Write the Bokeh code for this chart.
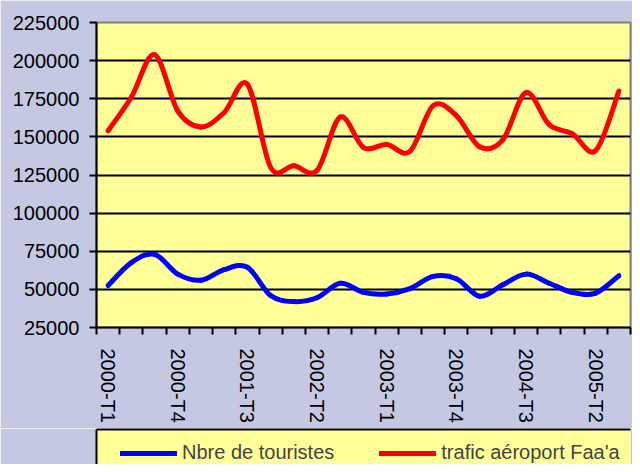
from bokeh.plotting import figure
from bokeh.layouts import column
from bokeh.models import FixedTicker, Range1d, Legend, LegendItem, ColumnDataSource, NumeralTickFormatter
from bokeh.embed import file_html
from bokeh.resources import INLINE

quarters = ["2000-T1", "2000-T2", "2000-T3", "2000-T4",
            "2001-T1", "2001-T2", "2001-T3", "2001-T4",
            "2002-T1", "2002-T2", "2002-T3", "2002-T4",
            "2003-T1", "2003-T2", "2003-T3", "2003-T4",
            "2004-T1", "2004-T2", "2004-T3", "2004-T4",
            "2005-T1", "2005-T2", "2005-T3"]
touristes = [52500, 67500, 73000, 60000, 56000, 63000, 64500, 46000, 42000, 44500,
             54000, 48000, 47000, 50500, 58500, 57000, 45500, 53000, 60000, 54000,
             48000, 47500, 59000]
trafic = [154000, 176000, 204000, 167000, 156500, 166000, 184500, 130000, 131000, 128000,
          163000, 143000, 145000, 140500, 170500, 164000, 143500, 148000, 179000, 158000,
          152000, 141000, 180000]
series_names = ["Nbre de touristes", "trafic aéroport Faa'a"]
series_colors = ["#0000FF", "#FF0000"]
label_every = 3
y_ticks = [25000, 50000, 75000, 100000, 125000, 150000, 175000, 200000, 225000]

BG = "#C4C8E2"
YEL = "#FFFF99"
FONT = "Liberation Sans"

n = len(quarters)
xs = [i + 0.5 for i in range(n)]


def bezier_source(ys):
    d = dict(x0=[], y0=[], x1=[], y1=[], cx0=[], cy0=[], cx1=[], cy1=[])
    for i in range(n - 1):
        im = max(i - 1, 0)
        ip2 = min(i + 2, n - 1)
        d["x0"].append(xs[i]); d["y0"].append(ys[i])
        d["x1"].append(xs[i + 1]); d["y1"].append(ys[i + 1])
        d["cx0"].append(xs[i] + (xs[i + 1] - xs[im]) / 6)
        d["cy0"].append(ys[i] + (ys[i + 1] - ys[im]) / 6)
        d["cx1"].append(xs[i + 1] - (xs[ip2] - xs[i]) / 6)
        d["cy1"].append(ys[i + 1] - (ys[ip2] - ys[i]) / 6)
    return ColumnDataSource(d)


p1 = figure(width=632, height=428, output_backend="svg", toolbar_location=None,
            x_range=Range1d(0, n), y_range=Range1d(25000, 225000),
            min_border_left=96, min_border_top=22, min_border_right=2, min_border_bottom=101)
p1.background_fill_color = YEL
p1.border_fill_color = BG
p1.outline_line_color = "#808080"
p1.outline_line_width = 2

for ys, col in zip([touristes, trafic], series_colors):
    p1.bezier(x0="x0", y0="y0", x1="x1", y1="y1", cx0="cx0", cy0="cy0", cx1="cx1", cy1="cy1",
              source=bezier_source(ys), line_color=col, line_width=5, line_cap="round")

# x axis
p1.xaxis.ticker = FixedTicker(ticks=[xs[i] for i in range(0, n, label_every)],
                              minor_ticks=list(range(n + 1)))
p1.xaxis.major_label_overrides = {xs[i]: quarters[i] for i in range(0, n, label_every)}
p1.xaxis.major_label_orientation = "vertical"
p1.xaxis.major_tick_out = 0
p1.xaxis.major_tick_in = 0
p1.xaxis.minor_tick_out = 7
p1.xaxis.minor_tick_in = 0
p1.xaxis.minor_tick_line_color = "black"
p1.xaxis.minor_tick_line_width = 2
p1.xaxis.major_label_standoff = 14
p1.xgrid.visible = False

# y axis
p1.yaxis.ticker = FixedTicker(ticks=y_ticks)
p1.yaxis.formatter = NumeralTickFormatter(format="0")
p1.yaxis.major_tick_out = 7
p1.yaxis.major_tick_in = 0
p1.yaxis.minor_tick_line_color = None
p1.yaxis.major_tick_line_width = 2
p1.yaxis.major_label_standoff = 10
p1.ygrid.ticker = FixedTicker(ticks=y_ticks[1:-1])
p1.ygrid.grid_line_color = "black"
p1.ygrid.grid_line_width = 2

for ax in (p1.xaxis, p1.yaxis):
    ax.axis_line_color = "black"
    ax.axis_line_width = 2
    ax.major_tick_line_color = "black"
    ax.major_label_text_font = FONT
    ax.major_label_text_font_size = "20px"
    ax.major_label_text_color = "black"

# legend strip (box cut off by the page edge, like the original)
p2 = figure(width=632, height=36, output_backend="svg", toolbar_location=None,
            x_range=Range1d(-2, -1), y_range=Range1d(-2, -1), x_axis_location="above",
            min_border_left=94, min_border_top=1, min_border_right=0, min_border_bottom=0)
p2.background_fill_color = YEL
p2.border_fill_color = BG
p2.outline_line_color = None
p2.grid.visible = False
for ax in (p2.xaxis, p2.yaxis):
    ax.ticker = FixedTicker(ticks=[])
    ax.major_tick_out = 0
    ax.major_tick_in = 0
    ax.minor_tick_out = 0
    ax.minor_tick_in = 0
    ax.axis_line_color = "black"
    ax.axis_line_width = 2

items = []
for name, ys, col in zip(series_names, [touristes, trafic], series_colors):
    # legend sample; its data lie outside this strip's ranges, so only the sample shows
    r = p2.line(x=xs, y=ys, line_color=col, line_width=5, line_cap="round")
    items.append(LegendItem(label=name, renderers=[r]))

legend = Legend(items=items, orientation="horizontal", location=(24, 0),
                label_text_font=FONT, label_text_font_size="20px",
                glyph_width=57, glyph_height=20, label_height=20, label_standoff=5, spacing=45,
                padding=0, margin=0,
                background_fill_alpha=0, border_line_color=None)
p2.add_layout(legend, "center")

p = column(p1, p2, spacing=0)

open("out.html", "w").write(file_html(p, INLINE))
